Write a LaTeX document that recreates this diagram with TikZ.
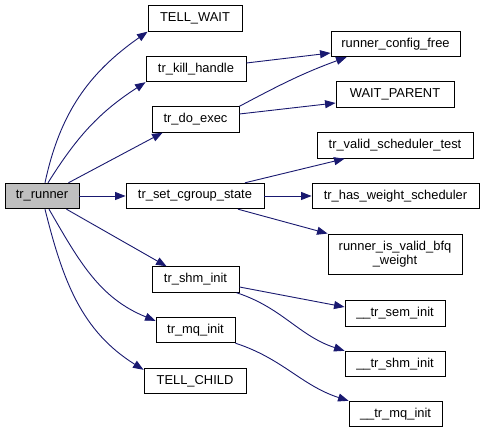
\documentclass[tikz,border=0pt]{standalone}
\usepackage{fontspec}
\setmainfont{Liberation Sans}
\usetikzlibrary{arrows.meta}
\definecolor{edgeblue}{HTML}{191970}
\definecolor{rootgray}{HTML}{BFBFBF}
\begin{document}
\begin{tikzpicture}[x=1pt,y=1pt,
  box/.style={draw=black, line width=0.9pt, fill=white, inner sep=0pt, minimum height=25.5pt,
    font=\fontsize{12.9}{14}\selectfont, align=center},
  edge/.style={draw=edgeblue, line width=0.9pt, -{Triangle[length=10.5pt,width=8pt]}}]
\useasboundingbox (0,0) rectangle (484,433);
\fill[white] (0,0) rectangle (484,433);
% nodes
\node[box, minimum width=74pt, fill=rootgray] (runner) at (42,237) {tr\_runner};
\node[box, minimum width=94pt] (tellwait) at (195,414.5) {TELL\_WAIT};
\node[box, minimum width=100pt] (kill) at (196,364) {tr\_kill\_handle};
\node[box, minimum width=87pt] (doexec) at (195.5,313.5) {tr\_do\_exec};
\node[box, minimum width=138pt] (cgroup) at (195,237) {tr\_set\_cgroup\_state};
\node[box, minimum width=87pt] (shminit) at (195.5,153.5) {tr\_shm\_init};
\node[box, minimum width=79pt] (mqinit) at (195.5,103) {tr\_mq\_init};
\node[box, minimum width=102pt] (tellchild) at (195,52) {TELL\_CHILD};
\node[box, minimum width=129pt] (cfgfree) at (395.5,389) {runner\_config\_free};
\node[box, minimum width=118pt] (waitparent) at (395,338.5) {WAIT\_PARENT};
\node[box, minimum width=156pt] (validsched) at (395,287.5) {tr\_valid\_scheduler\_test};
\node[box, minimum width=167pt] (hasweight) at (395.5,237) {tr\_has\_weight\_scheduler};
\node[box, minimum width=134pt, minimum height=40pt] (bfq) at (395,179) {runner\_is\_valid\_bfq\\\_weight};
\node[box, minimum width=100pt] (seminit) at (395,119.5) {\_\_tr\_sem\_init};
\node[box, minimum width=100pt] (shminit2) at (395,69) {\_\_tr\_shm\_init};
\node[box, minimum width=93pt] (mqinit2) at (395.5,19) {\_\_tr\_mq\_init};
% edges from tr_runner
\draw[edge] ([xshift=3pt]runner.north) to[out=78,in=215] (tellwait.south west);
\draw[edge] ([xshift=6pt]runner.north) to[out=58,in=213] (kill.south west);
\draw[edge] ([xshift=-11pt]runner.north east) -- ([xshift=11pt]doexec.south west);
\draw[edge] (runner.east) -- (cgroup.west);
\draw[edge] ([xshift=-13pt]runner.south east) -- ([xshift=15pt]shminit.north west);
\draw[edge] ([xshift=7pt]runner.south) to[out=-60,in=158] ([yshift=-4pt]mqinit.north west);
\draw[edge] ([xshift=3pt]runner.south) to[out=-76,in=148] ([yshift=-2pt]tellchild.north west);
% other edges
\draw[edge] ([yshift=6pt]kill.east) -- ([yshift=-9pt]cfgfree.west);
\draw[edge] (doexec.north east) to[out=28,in=200] ([xshift=16pt]cfgfree.south west);
\draw[edge] ([yshift=5.5pt]doexec.east) -- ([yshift=-8.5pt]waitparent.west);
\draw[edge] ([xshift=50pt]cgroup.north) -- ([xshift=28pt]validsched.south west);
\draw[edge] (cgroup.east) -- (hasweight.west);
\draw[edge] ([xshift=43pt]cgroup.south) -- (bfq.north west);
\draw[edge] ([yshift=-7.5pt]shminit.east) -- ([yshift=6.5pt]seminit.west);
\draw[edge] ([xshift=-3pt]shminit.south east) to[out=-18,in=162] (shminit2.north west);
\draw[edge] (mqinit.south east) to[out=-18,in=162] (mqinit2.north west);
\end{tikzpicture}
\end{document}
